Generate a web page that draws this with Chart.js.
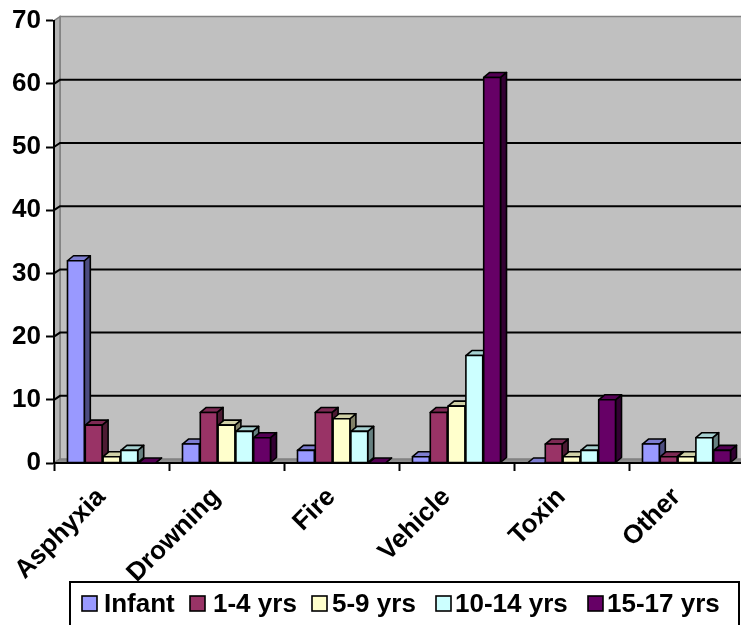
<!DOCTYPE html>
<html>
<head>
<meta charset="utf-8">
<script src="https://cdn.jsdelivr.net/npm/chart.js@4.4.1/dist/chart.umd.min.js"></script>
<style>
  html, body { margin: 0; padding: 0; background: #ffffff; overflow: hidden; }
  #wrap { width: 760px; height: 625px; }
  canvas { display: block; background: #ffffff; }
</style>
</head>
<body>
<div id="wrap"><canvas id="chart" width="760" height="625"></canvas></div>
<script>
// Injury deaths by cause and age group
const categories = ['Asphyxia', 'Drowning', 'Fire', 'Vehicle', 'Toxin', 'Other'];
const seriesNames = ['Infant', '1-4 yrs', '5-9 yrs', '10-14 yrs', '15-17 yrs'];
const infant    = [32, 3, 2, 1, 0, 3];
const age1to4   = [6, 8, 8, 8, 3, 1];
const age5to9   = [1, 6, 7, 9, 1, 1];
const age10to14 = [2, 5, 5, 17, 2, 4];
const age15to17 = [0, 4, 0, 61, 10, 2];
const yTicks = [0, 10, 20, 30, 40, 50, 60, 70];

const seriesValues = [infant, age1to4, age5to9, age10to14, age15to17];
const seriesColors = ['#9999FF', '#993366', '#FFFFCC', '#CCFFFF', '#660066'];

const FONT = "'Liberation Sans', Arial, sans-serif";
const DEPTH_X = 6, DEPTH_Y = -5;   // bar depth
const WALL_X = 6, WALL_Y = -4;     // back wall offset

function shade(hex, f) {
  const n = parseInt(hex.slice(1), 16);
  const r = Math.round(((n >> 16) & 255) * f);
  const g = Math.round(((n >> 8) & 255) * f);
  const b = Math.round((n & 255) * f);
  return `rgb(${r},${g},${b})`;
}

function poly(ctx, pts, fill) {
  ctx.beginPath();
  ctx.moveTo(pts[0][0], pts[0][1]);
  for (let i = 1; i < pts.length; i++) ctx.lineTo(pts[i][0], pts[i][1]);
  ctx.closePath();
  ctx.fillStyle = fill;
  ctx.fill();
  ctx.stroke();
}

// Back wall, side wall, floor and gridlines
const wallPlugin = {
  id: 'wall3d',
  beforeDraw(chart) {
    const { ctx, chartArea: a, scales } = chart;
    const y = scales.y;
    const top = y.getPixelForValue(70), bot = y.getPixelForValue(0);
    const right = chart.width;
    ctx.save();
    ctx.lineWidth = 1.5;
    ctx.strokeStyle = '#808080';
    // back wall
    ctx.fillStyle = '#C0C0C0';
    ctx.fillRect(a.left + WALL_X, top + WALL_Y, right - a.left, bot - top);
    ctx.beginPath();
    ctx.moveTo(a.left + WALL_X, bot + WALL_Y);
    ctx.lineTo(a.left + WALL_X, top + WALL_Y);
    ctx.lineTo(right, top + WALL_Y);
    ctx.stroke();
    // left side wall
    poly(ctx, [[a.left, top], [a.left + WALL_X, top + WALL_Y], [a.left + WALL_X, bot + WALL_Y], [a.left, bot]], '#B4B4B4');
    // floor
    poly(ctx, [[a.left, bot], [a.left + WALL_X, bot + WALL_Y], [right + 10, bot + WALL_Y], [right + 10, bot]], '#8C8C8C');
    // gridlines on the walls
    ctx.strokeStyle = '#000000';
    ctx.lineWidth = 2;
    yTicks.forEach(v => {
      if (v === 0 || v === 70) return;
      const py = y.getPixelForValue(v);
      ctx.beginPath();
      ctx.moveTo(a.left, py);
      ctx.lineTo(a.left + WALL_X, py + WALL_Y);
      ctx.lineTo(right, py + WALL_Y);
      ctx.stroke();
    });
    ctx.restore();
  }
};

// Extruded faces for each bar, drawn left to right so fronts overlap neighbouring sides
const barPlugin = {
  id: 'bars3d',
  afterDatasetsDraw(chart) {
    const ctx = chart.ctx;
    ctx.save();
    ctx.strokeStyle = '#000000';
    ctx.lineWidth = 1.6;
    ctx.lineJoin = 'round';
    const n = chart.data.labels.length;
    for (let j = 0; j < n; j++) {
      chart.data.datasets.forEach((ds, i) => {
        const bar = chart.getDatasetMeta(i).data[j];
        const { x, y, base, width } = bar.getProps(['x', 'y', 'base', 'width'], true);
        const L = x - width / 2, R = x + width / 2;
        const T = Math.min(y, base), B = base;
        const c = seriesColors[i];
        poly(ctx, [[R, B], [R, T], [R + DEPTH_X, T + DEPTH_Y], [R + DEPTH_X, B + DEPTH_Y]], shade(c, 0.5));
        poly(ctx, [[L, T], [R, T], [R + DEPTH_X, T + DEPTH_Y], [L + DEPTH_X, T + DEPTH_Y]], shade(c, 0.82));
        if (B - T > 0.5) {
          ctx.fillStyle = c;
          ctx.fillRect(L, T, width, B - T);
          ctx.strokeRect(L, T, width, B - T);
        }
      });
    }
    ctx.restore();
  }
};

// Boxed legend along the bottom
const legendPlugin = {
  id: 'boxLegend',
  afterDraw(chart) {
    const ctx = chart.ctx;
    const boxL = 70, boxT = 582, boxR = 739, boxB = 660;
    const squareX = [82, 190, 312, 436, 588];
    const textX = [104, 213, 332, 455, 607];
    ctx.save();
    ctx.fillStyle = '#ffffff';
    ctx.fillRect(boxL, boxT, boxR - boxL, boxB - boxT);
    ctx.strokeStyle = '#000000';
    ctx.lineWidth = 2;
    ctx.strokeRect(boxL, boxT, boxR - boxL, boxB - boxT);
    ctx.font = `bold 26px ${FONT}`;
    ctx.textBaseline = 'alphabetic';
    ctx.textAlign = 'left';
    seriesNames.forEach((name, i) => {
      ctx.fillStyle = seriesColors[i];
      ctx.fillRect(squareX[i], 596, 15, 15);
      ctx.lineWidth = 1.6;
      ctx.strokeRect(squareX[i], 596, 15, 15);
      ctx.fillStyle = '#000000';
      ctx.fillText(name, textX[i], 612);
    });
    ctx.restore();
  }
};

const chart = new Chart(document.getElementById('chart'), {
  type: 'bar',
  data: {
    labels: categories,
    datasets: seriesNames.map((name, i) => ({
      label: name,
      data: seriesValues[i],
      backgroundColor: seriesColors[i],
      borderWidth: 0,
      categoryPercentage: 0.774,
      barPercentage: 0.944
    }))
  },
  options: {
    responsive: false,
    animation: false,
    layout: { padding: { top: 20, right: 16, bottom: 0, left: 0 } },
    plugins: { legend: { display: false }, tooltip: { enabled: false } },
    scales: {
      x: {
        offset: true,
        grid: { offset: true, drawOnChartArea: false, drawTicks: true, tickLength: 8, tickColor: '#000', tickWidth: 2 },
        border: { color: '#000', width: 2 },
        ticks: {
          color: '#000',
          font: { family: FONT, size: 26, weight: 'bold' },
          minRotation: 45, maxRotation: 45, autoSkip: false,
          padding: 11, labelOffset: -10
        },
        afterFit(scale) { scale.height = 162; }
      },
      y: {
        min: 0, max: 70,
        afterBuildTicks(scale) { scale.ticks = yTicks.map(v => ({ value: v })); },
        grid: { drawOnChartArea: false, drawTicks: true, tickLength: 8, tickColor: '#000', tickWidth: 2 },
        border: { color: '#000', width: 2 },
        ticks: {
          color: '#000',
          font: { family: FONT, size: 26, weight: 'bold' },
          padding: 5
        },
        afterFit(scale) { scale.width = 54; }
      }
    }
  },
  plugins: [wallPlugin, barPlugin, legendPlugin]
});
</script>
</body>
</html>
